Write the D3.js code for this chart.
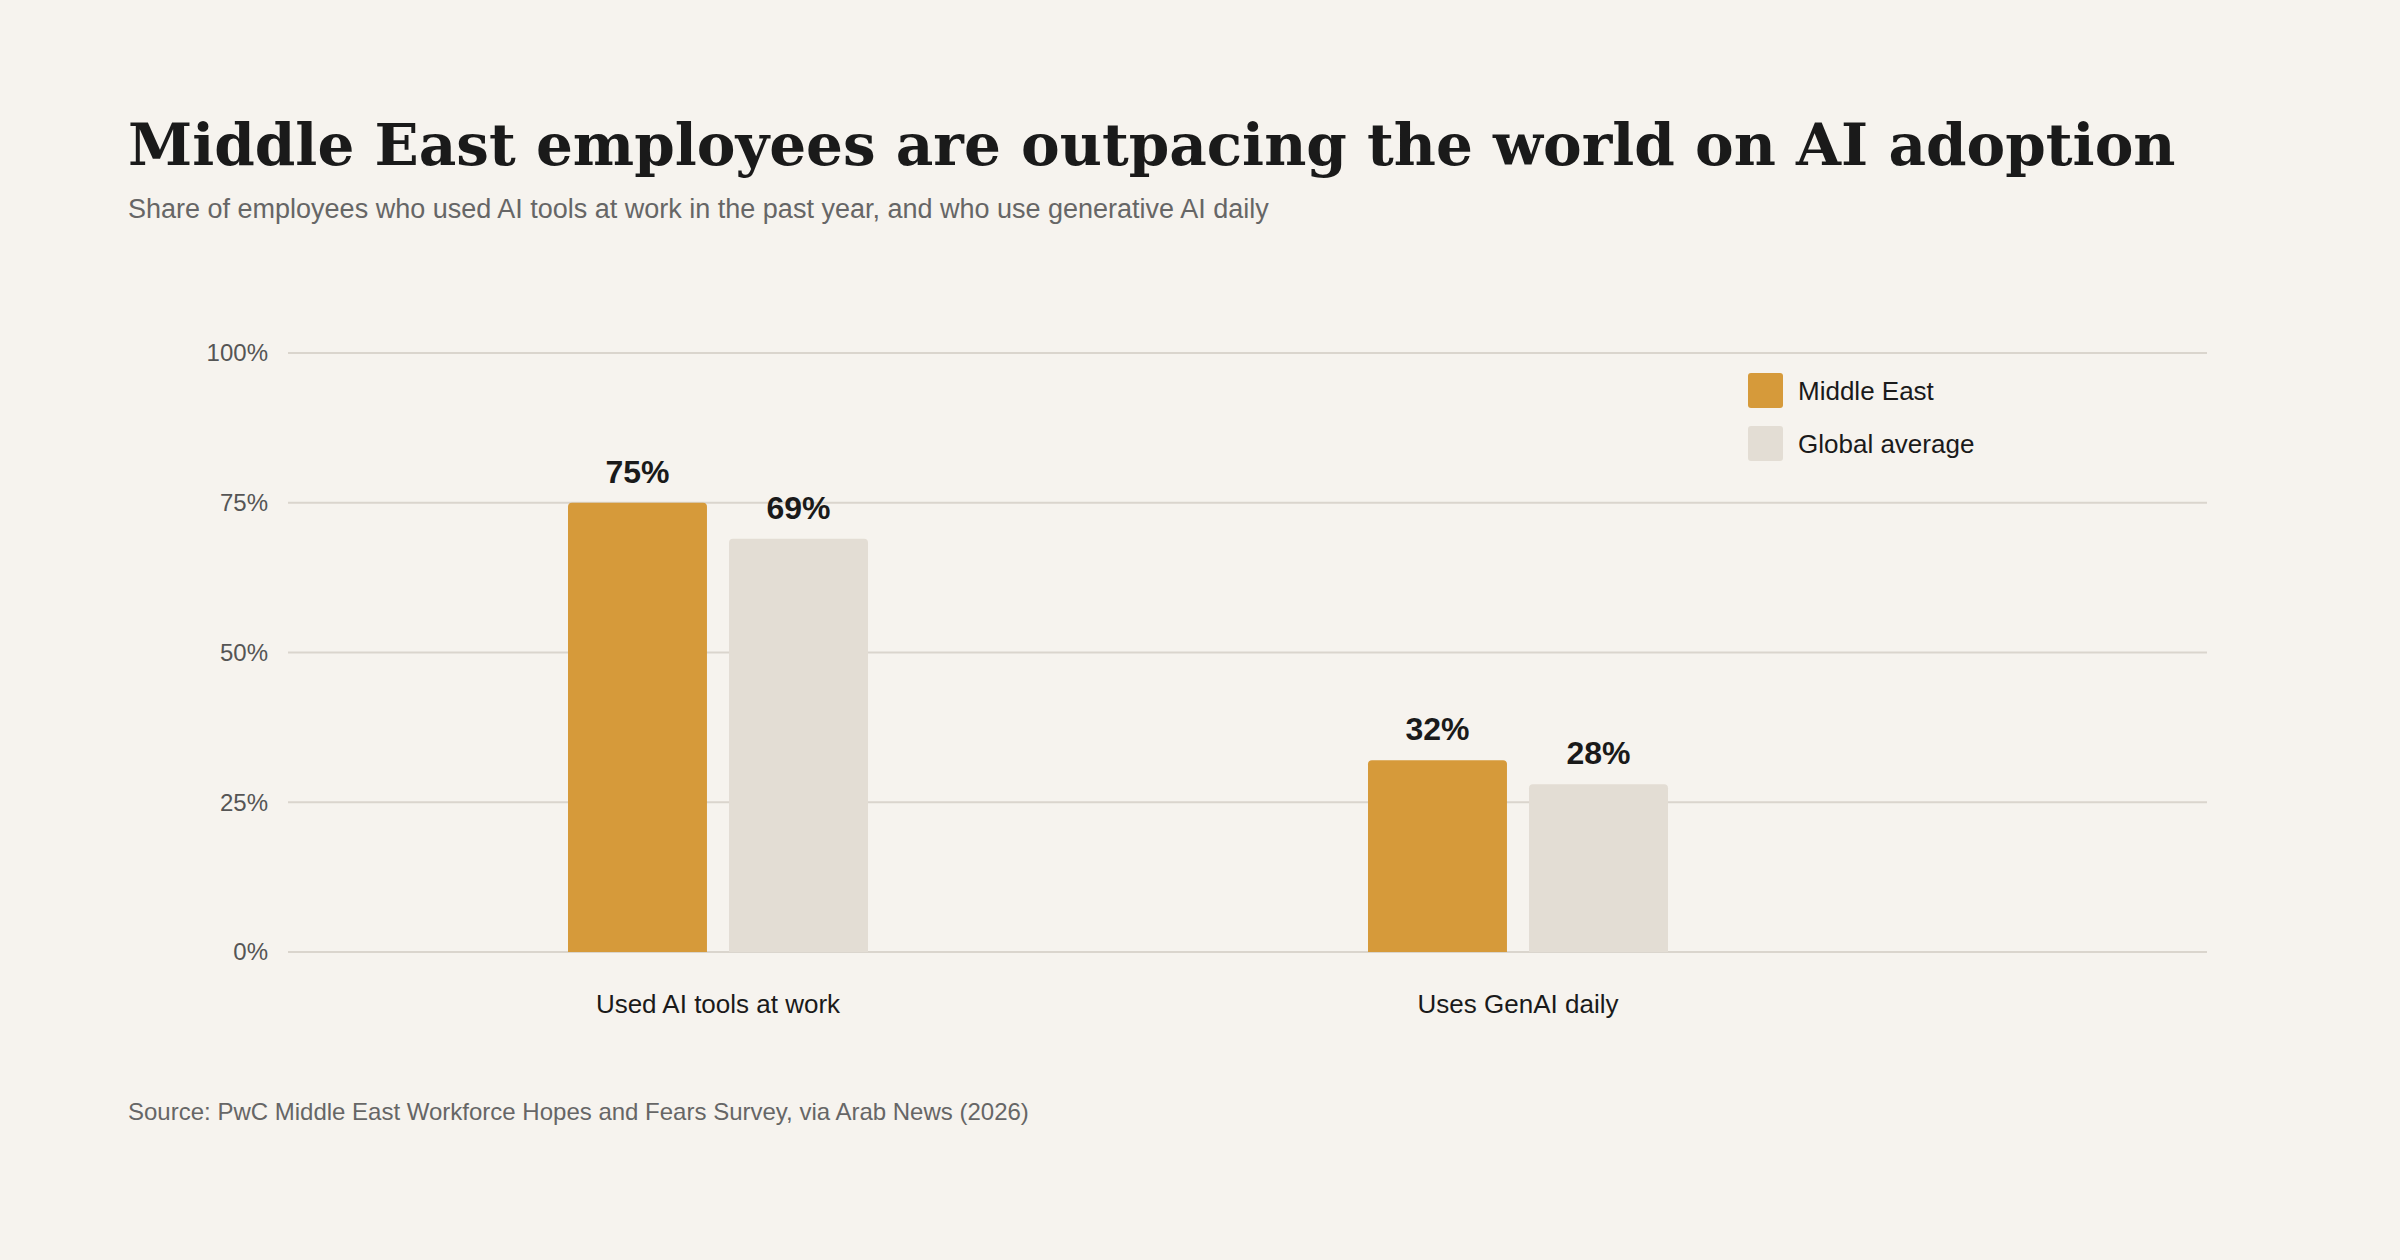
<!DOCTYPE html>
<html><head><meta charset="utf-8">
<script src="https://cdn.jsdelivr.net/npm/d3@7"></script>
<style>body{margin:0;background:#F6F3EE;}</style>
</head><body>
<svg id="c" width="2400" height="1260"></svg>
<script>
const categories = ["Used AI tools at work", "Uses GenAI daily"];
const seriesNames = ["Middle East", "Global average"];
const middleEast = [75, 32];
const globalAvg = [69, 28];
const ticks = [0, 25, 50, 75, 100];
const colors = ["#D69A3A", "#E3DDD4"];

const svg = d3.select("#c");
svg.append("rect").attr("width",2400).attr("height",1260).attr("fill","#F6F3EE");
svg.append("text").attr("x",128).attr("y",165).attr("font-family","DejaVu Serif, Liberation Serif, serif")
  .attr("font-weight","bold").attr("font-size",58).attr("fill","#1a1a1a")
  .text("Middle East employees are outpacing the world on AI adoption");
svg.append("text").attr("x",128).attr("y",218).attr("font-family","Liberation Sans, Arial, sans-serif")
  .attr("font-size",27).attr("fill","#666").text("Share of employees who used AI tools at work in the past year, and who use generative AI daily");

const y = d3.scaleLinear().domain([0,100]).range([952,353]);
const x0 = d3.scaleBand().domain(categories).range([318,1918]);
const x1 = d3.scaleBand().domain(seriesNames).range([0,300]).paddingInner(0.137);
const g = svg.append("g");
ticks.forEach(t=>{
  g.append("line").attr("x1",288).attr("x2",2207).attr("y1",y(t)).attr("y2",y(t))
   .attr("stroke","#DAD5CD").attr("stroke-width",2);
  g.append("text").attr("x",268).attr("y",y(t)).attr("dy","0.35em").attr("text-anchor","end")
   .attr("font-family","Liberation Sans, Arial, sans-serif").attr("font-size",24).attr("fill","#555").text(t+"%");
});
const vals = [middleEast, globalAvg];
categories.forEach((c,i)=>{
  const gx = x0(c) + (x0.bandwidth()-300)/2;
  seriesNames.forEach((s,j)=>{
    const v = vals[j][i];
    const bx = gx + x1(s);
    g.append("path").attr("fill",colors[j]).attr("d",(()=>{
      const w=x1.bandwidth(), top=y(v), bot=y(0), r=4;
      return `M${bx},${bot}V${top+r}Q${bx},${top} ${bx+r},${top}H${bx+w-r}Q${bx+w},${top} ${bx+w},${top+r}V${bot}Z`;
    })());
    g.append("text").attr("x",bx+x1.bandwidth()/2).attr("y",y(v)-20).attr("text-anchor","middle")
      .attr("font-family","Liberation Sans, Arial, sans-serif").attr("font-weight","bold").attr("font-size",32)
      .attr("fill","#1a1a1a").text(v+"%");
  });
  g.append("text").attr("x",x0(c)+x0.bandwidth()/2).attr("y",1013).attr("text-anchor","middle")
    .attr("font-family","Liberation Sans, Arial, sans-serif").attr("font-size",26).attr("fill","#1a1a1a").text(c);
});
seriesNames.forEach((s,j)=>{
  const ly = 373 + j*53;
  svg.append("rect").attr("x",1748).attr("y",ly).attr("width",35).attr("height",35).attr("rx",3).attr("fill",colors[j]);
  svg.append("text").attr("x",1798).attr("y",ly+18).attr("dy","0.35em")
    .attr("font-family","Liberation Sans, Arial, sans-serif").attr("font-size",26).attr("fill","#1a1a1a").text(s);
});
svg.append("text").attr("x",128).attr("y",1120).attr("font-family","Liberation Sans, Arial, sans-serif")
  .attr("font-size",24).attr("fill","#666").text("Source: PwC Middle East Workforce Hopes and Fears Survey, via Arab News (2026)");
</script>
</body></html>
